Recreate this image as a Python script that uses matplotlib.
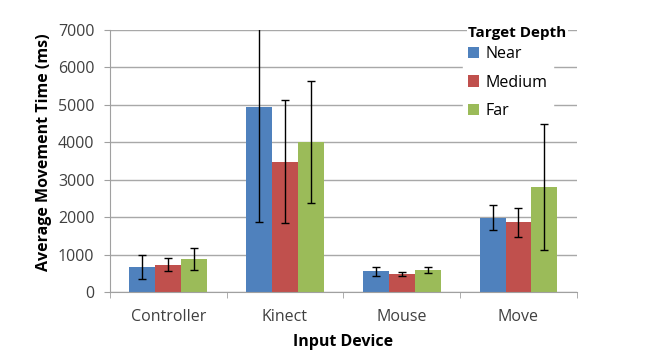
import matplotlib.pyplot as plt
import numpy as np

devices = ["Controller", "Kinect", "Mouse", "Move"]
depths = ["Near", "Medium", "Far"]
# mean movement time (ms) per depth, one value per device
near = [660, 4930, 560, 1980]
medium = [735, 3480, 480, 1865]
far = [880, 4000, 590, 2800]
# error bar half-lengths (ms)
near_err = [320, 3070, 120, 335]
medium_err = [170, 1650, 60, 390]
far_err = [290, 1630, 85, 1690]

colors = ["#4F81BD", "#C0504D", "#9BBB59"]
font = "Open Sans"
grey = "#404040"

fig = plt.figure(figsize=(6.46, 3.51), dpi=100)
ax = fig.add_axes([0.170, 0.168, 0.723, 0.747])

x = np.arange(len(devices))
w = 0.222
for i, (vals, errs) in enumerate(zip([near, medium, far], [near_err, medium_err, far_err])):
    ax.bar(x + (i - 1) * w, vals, w, color=colors[i], label=depths[i], zorder=2,
           yerr=errs, error_kw=dict(ecolor="black", elinewidth=1, capsize=3, capthick=1, zorder=3))

ax.set_xlim(-0.5, 3.5)
ax.set_ylim(0, 7000)
ax.set_yticks(range(0, 7001, 1000))
ax.set_xticks(x)
ax.set_xticklabels(devices, fontname=font, fontsize=11.5, color=grey)
ax.set_xticks(np.arange(-0.5, 4.0, 1.0), minor=True)
ax.tick_params(axis="x", which="major", length=0, pad=12)
ax.tick_params(axis="x", which="minor", length=4, color="#a0a0a0", direction="out")
ax.tick_params(axis="y", length=4, color="#a0a0a0", labelsize=11.5, labelcolor=grey, pad=7)
for lbl in ax.get_yticklabels():
    lbl.set_fontname(font)
ax.yaxis.grid(True, color="#a8a8a8", lw=1)
ax.set_axisbelow(True)
for s in ["top", "right"]:
    ax.spines[s].set_visible(False)
ax.spines["left"].set_color("#a0a0a0")
ax.spines["bottom"].set_color("#a0a0a0")

ax.set_ylabel("Average Movement Time (ms)", fontname=font, fontsize=11.5, fontweight="bold")
ax.yaxis.set_label_coords(-0.124, 0.534)
ax.set_xlabel("Input Device", fontname=font, fontsize=11.5, fontweight="bold", labelpad=7)

leg = ax.legend(loc="upper left", bbox_to_anchor=(0.74, 0.988),
                frameon=True, framealpha=1, edgecolor="white", fancybox=False,
                prop={"family": font, "size": 11.5}, labelspacing=0.8,
                handlelength=0.7, handleheight=0.7, handletextpad=0.4, borderpad=0.3)
leg.set_zorder(2.5)
ax.text(0.767, 0.989, "Target Depth", transform=ax.transAxes, ha="left", va="center",
        fontname=font, fontsize=11, fontweight="bold", zorder=6,
        bbox=dict(facecolor="white", edgecolor="none", pad=1))

fig.savefig("out.png", dpi=100)
